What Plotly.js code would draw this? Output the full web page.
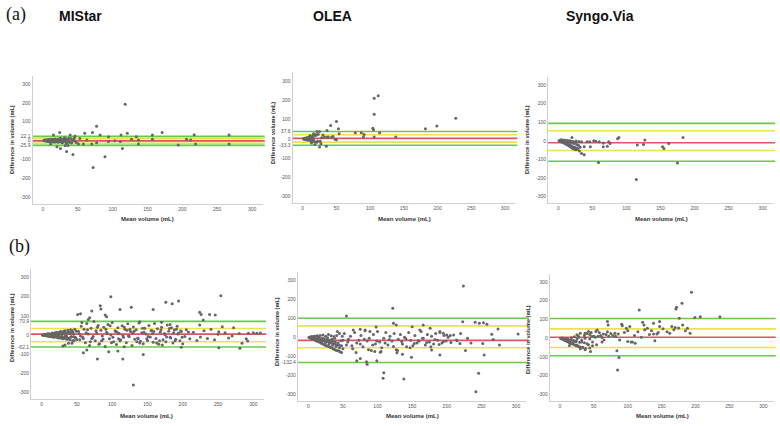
<!DOCTYPE html>
<html><head><meta charset="utf-8">
<script src="https://cdn.plot.ly/plotly-3.0.1.min.js"></script>
<style>html,body{margin:0;padding:0;background:#fff}#c{width:780px;height:426px}</style>
</head><body><div id="c"></div>
<script>
// ---------- DATA (mean volume, difference in volume) ----------
const panelTitles = ["MIStar", "OLEA", "Syngo.Via"];
const rowLabels = ["(a)", "(b)"];
const xTickVals = [0, 50, 100, 150, 200, 250, 300];

// limits: [upper LoA (green), upper (yellow), mean bias (red), lower (yellow), lower LoA (green)]
const mistarA_limits = [22.1, 11, -1.9, -15, -25.9];
const oleaA_limits   = [37.6, 21, 2.2, -17, -33.3];
const syngoA_limits  = [94, 54, -10, -52, -110];
const mistarB_limits = [70.9, 34, 4.4, -35, -62.1];
const oleaB_limits   = [100, 60, -16.2, -55, -132.4];
const syngoB_limits  = [105, 50, 5, -50, -94];

const mistarA_yticks = [-300, -200, -100, -25.9, 0, 22.1, 100, 200, 300];
const oleaA_yticks   = [-300, -200, -100, -33.3, 0, 37.6, 100, 200, 300];
const syngoA_yticks  = [-300, -200, -100, 0, 100, 200, 300];
const mistarB_yticks = [-300, -200, -100, -62.1, 0, 70.9, 100, 200, 300];
const oleaB_yticks   = [-300, -200, -132.4, -100, 0, 100, 200, 300];
const syngoB_yticks  = [-300, -200, -100, 0, 100, 200, 300];

const mistarA_pts = [[1,0],[2,1],[3,-1],[3,2],[4,-2],[5,3],[5,-3],[6,1],[7,4],[8,-4],[8,2],[9,-5],[10,5],[11,-3],[12,6],[12,-6],[13,2],[14,-7],[15,4],[16,-2],[17,8],[18,-8],[19,3],[20,-5],[21,7],[22,-9],[23,1],[24,10],[25,-4],[26,6],[27,-10],[28,3],[29,-6],[30,9],[31,-2],[32,5],[33,-11],[34,8],[35,-7],[36,4],[38,-9],[40,10],[42,-5],[44,7],[46,-3],
[2,-2],[4,3],[6,-4],[9,5],[11,-6],[14,7],[16,-8],[19,2],[22,-3],[25,12],[28,-12],[31,14],[34,-14],[37,11],[41,-13],[45,15],[48,-10],
[118,192],[77,75],[72,-144],[89,-86],[43,-75],[34,-59],[25,-42],[114,-42],[171,42],[121,38],[24,42],[71,42],[157,29],[157,6],[194,-24],[206,6],[212,3],[217,31],[219,-19],[267,29],[267,-19],[137,-19],[137,3],[127,6],[134,20],[111,-6],[112,29],[103,-1],[94,20],[94,-6],[82,29],[60,38],[63,3],[53,11],[51,-19],[77,-12],[58,-19],[70,-19],[11,-19],[15,29],[39,29],[46,24],[32,-26],[36,-26],[20,-33]];

const oleaA_pts = [[1,0],[2,1],[2,-2],[3,3],[4,-3],[4,2],[5,4],[6,-5],[6,5],[7,-6],[8,7],[8,-4],[9,8],[10,-8],[10,6],[11,9],[12,-10],[12,11],[13,-9],[14,12],[15,14],[16,-13],[17,16],[18,-15],[20,18],[22,-12],[3,-1],[5,-2],[7,1],[9,-3],[11,2],[13,4],[15,-5],[19,22],[21,-18],[23,24],
[112,224],[106,210],[106,128],[227,107],[199,66],[182,52],[41.5,69],[50,90],[104,55],[105,47],[53,52],[54,26],[36,43],[78,31],[87,31],[91,22],[90,9],[114,31],[106,9],[138,9],[21,38],[25,38],[16,26],[38,9],[43,9],[36,9],[50,-5],[28,5],[26,-12],[25,-43],[27,-26],[35,-38],[18,-29],[13,-22],[16,0],[11,17],[30,20],[32,10],[45,12],[48,-2]];

const syngoA_pts = [[1,0],[2,-2],[3,2],[4,-5],[5,3],[6,-8],[7,1],[8,-12],[9,4],[10,-15],[11,-3],[12,-20],[13,2],[14,-24],[15,-6],[16,-28],[17,0],[18,-33],[19,-10],[20,-38],[21,-4],[22,-42],[23,-15],[24,-45],[25,-8],[26,-48],[27,-20],[28,-40],[30,-25],[32,-35],[3,5],[5,6],[7,-3],[9,-8],[11,-10],[13,-14],[15,-18],[17,-22],[19,-26],[21,-30],[23,-34],[25,-36],[10,2],[14,1],[18,-2],[22,-5],
[114.5,-208],[59,-117],[175,-119],[183,18],[89,18],[87,11],[127,4],[116,-23],[125,-20],[153,-32],[155,-41],[162,-14],[38,-75],[34,-68],[31,-54],[28,-45],[38,-32],[47,-32],[66,-32],[72,-29],[74,-5],[76,-14],[60,-5],[52,0],[55,-2],[42,-5],[46,-5],[34,-5],[66,-11],[20,18],[30,-3],[26,-1]];

const mistarB_pts = [[1,0],[2,-1],[3,2],[4,-3],[5,3],[6,-4],[7,5],[8,-5],[9,6],[10,-7],[11,7],[12,-8],[13,4],[14,-9],[15,10],[16,-10],[17,8],[18,-12],[19,12],[20,-6],[21,14],[22,-13],[23,9],[24,-15],[25,16],[26,-11],[27,18],[28,-17],[29,5],[30,-19],[31,20],[32,-14],[33,22],[34,-20],[35,11],[36,-22],[37,25],[38,-18],[39,15],[40,-25],[41,28],[42,-8],[43,24],[44,-28],[45,6],[46,-30],[47,30],[48,-16],[49,19],[50,-24],
[3,1],[5,-2],[8,3],[11,-3],[14,2],[17,-4],[20,5],[23,-1],[26,7],[29,-8],[32,10],[35,-5],[38,13],[41,-12],[44,16],[47,-10],[6,4],[12,-5],[18,6],[24,-7],[30,9],[36,-11],[42,12],[48,-14],[9,-1],[15,2],[21,-3],[27,4],[33,-6],[39,8],[45,-9],
[52,20],[54,-25],[56,45],[58,-10],[60,30],[62,-40],[64,60],[66,5],[68,-55],[70,35],[72,-15],[74,70],[76,-30],[78,10],[80,50],[82,-45],[84,25],[86,-5],[88,40],[90,-60],[92,15],[94,55],[96,-20],[98,0],[100,65],[102,-35],[104,22],[106,-50],[108,38],[110,8],[112,-25],[114,48],[116,-12],[118,30],[120,-40],[122,58],[124,-8],[126,18],[128,-55],[130,42],[132,-22],[134,28],[136,-15],[138,62],[140,-32],[142,12],[144,-45],[146,35],[148,5],[150,-28],[152,50],[154,-10],[156,24],[158,-38],[160,60],[162,-18],[164,32],[166,-48],[168,14],[170,40],[172,-25],[174,8],[176,-35],[178,52],[180,20],[182,-12],[184,38],[186,-42],[188,26],[190,-22],[192,46],[194,10],[196,-30],[198,18],[200,-45],[205,28],[210,-20],[215,15],[220,-28],[230,22],[235,-18],[240,30],[245,-25],[260,12],[265,-15],[280,8],[290,-20],[300,12],
[55,-5],[63,12],[71,-18],[77,22],[85,-30],[93,8],[99,-40],[107,15],[115,-3],[121,25],[129,10],[137,-20],[143,35],[151,-8],[159,18],[167,-30],[175,2],[183,-15],[191,30],[199,-12],[57,65],[69,-35],[81,-48],[97,48],[109,-20],[125,30],[139,-42],[155,22],[171,-52],[187,12],
[53,8],[59,-18],[65,28],[73,-8],[79,40],[87,-22],[91,30],[101,-12],[105,18],[111,-30],[117,42],[123,-5],[131,20],[135,-35],[145,15],[149,-20],[157,6],[163,-42],[169,26],[177,-10],[181,34],[189,-30],[193,5],[197,22],[203,-8],[208,16],[225,-10],[250,4],[270,-5],[310,10],
[254,204],[98,199],[83,152],[84,135],[71,125],[176,170],[185,163],[194,177],[158,133],[127,144],[111,133],[51,107],[55,111],[90,104],[92,95],[224,118],[226,107],[238,107],[246,104],[229,78],[224,52],[68,90],[66,81],[139,69],[170,66],[182,55],[59,-92],[64,-78],[79,-125],[95,-87],[108,-83],[115,-125],[117,-61],[144,-101],[130,-260],[198,-64],[251,-66],[281,-69],[284,-43],[292,-31],[293,9],[305,9],[256,43],[272,38],[251,17],[30,-57],[33,-52],[38,-43],[43,-43]];

const oleaB_pts = [[1,0],[2,-3],[3,2],[4,-6],[5,4],[6,-9],[7,3],[8,-12],[9,6],[10,-16],[11,5],[12,-19],[13,8],[14,-22],[15,2],[16,-25],[17,10],[18,-30],[19,-5],[20,-33],[21,12],[22,-36],[23,-8],[24,-40],[25,6],[26,-44],[27,-12],[28,-46],[29,15],[30,-50],[31,-15],[32,-52],[33,8],[34,-56],[35,-20],[36,-60],[37,4],[38,-64],[39,-25],[40,-68],[41,10],[42,-70],[43,-30],[44,-72],[45,20],[46,-76],[47,-18],[48,-80],[49,5],[50,-60],
[3,-2],[6,-4],[9,-8],[12,-10],[15,-12],[18,-15],[21,-18],[24,-20],[27,-22],[30,-25],[33,-28],[36,-32],[39,-35],[42,-40],[45,-42],[48,-45],[5,1],[10,-6],[15,-14],[20,-20],[25,-28],[30,-35],[35,-42],[40,-48],[45,-55],[50,-15],[8,2],[14,-3],[22,-8],[28,-2],[34,-10],[38,-5],
[52,20],[55,-40],[58,-10],[61,5],[64,-60],[67,25],[70,-30],[73,-15],[76,10],[79,-50],[82,35],[85,-20],[88,-5],[91,-70],[94,15],[97,-35],[100,30],[103,-25],[106,-55],[109,-5],[112,25],[115,-40],[118,5],[121,-20],[124,20],[127,-65],[130,-10],[133,15],[136,-35],[139,0],[142,-50],[145,25],[148,-15],[151,-45],[154,10],[157,-30],[160,-20],[163,30],[166,-5],[169,-40],[172,15],[175,-25],[178,5],[181,-35],[184,20],[187,-15],[190,25],[193,-30],[196,10],[199,-20],[202,0],[206,-28],[210,12],[215,-18],[220,20],[230,-5],[235,-30],
[57,-25],[63,-45],[69,-80],[75,-35],[81,-10],[87,-65],[93,-40],[99,-20],[105,-75],[111,-30],[117,-12],[123,-48],[129,-70],[135,-22],[141,-8],[147,-55],[153,-32],[159,-18],[165,-5],[171,-28],[177,-50],[183,-12],[189,-38],[195,-24],
[224,270],[122,153],[55,112],[109,-186],[108,-216],[138,-219],[246,-189],[242,-286],[223,82],[241,79],[247,74],[253,77],[258,68],[274,44],[276,-40],[254,-93],[252,-32],[265,16],[267,-11],[303,18],[227,-70],[219,-32],[214,-14],[99,-123],[70,-123],[84,-128],[85,-142],[75,-111],[149,-105],[128,-81],[136,-89],[190,-93],[178,-67],[123,74],[127,65],[166,65],[150,56],[98,54],[161,39],[176,47],[190,30],[195,21],[200,12],[205,9],[96,-75],[104,-79],[65,39],[75,42],[82,39],[89,30],[42,30]];

const syngoB_pts = [[1,0],[2,-3],[3,1],[4,-6],[5,-2],[6,-10],[7,-4],[8,-14],[9,-6],[10,-17],[11,-3],[12,-20],[13,-9],[14,-24],[15,-12],[16,-27],[17,2],[18,-30],[19,-15],[20,-33],[21,8],[22,-36],[23,-18],[24,-40],[25,-5],[26,-42],[27,12],[28,-45],[29,-22],[30,-48],[32,-10],[34,-50],[36,15],[38,-55],[40,25],[42,-35],[44,-5],[46,30],[48,-20],[50,10],
[4,-1],[8,-4],[12,-8],[16,-10],[20,-13],[24,-16],[28,5],[32,-20],[36,-25],[40,-30],[44,20],[48,-40],[52,5],[56,10],[58,30],[60,15],[65,-10],[68,20],[72,10],[75,25],[78,15],
[82,10],[95,30],[105,-20],[110,15],[115,35],[120,5],[125,45],[132,20],[135,40],[145,30],[152,50],[158,35],[168,45],[175,55],[185,40],[62,-20],[54,-35],[70,35],[88,-10],[100,40],
[194,245],[172,165],[171,156],[180,186],[117,151],[236,115],[207,115],[199,110],[176,107],[70,89],[71,71],[91,75],[92,66],[98,53],[103,62],[122,85],[124,71],[129,53],[138,80],[147,89],[147,62],[165,62],[170,57],[181,71],[188,53],[192,27],[162,27],[143,23],[138,23],[140,-14],[100,-18],[107,-21],[111,-27],[84,-67],[87,-103],[85,-170],[81,27],[86,23],[64,23],[55,44],[53,36],[47,9],[62,4],[42,36],[37,27],[44,-53],[45,-71],[37,-62],[30,-57],[33,-48],[25,-36],[14,-39],[25,18],[30,27],[37,0],[20,-18]];

// ---------- LAYOUT / STYLE ----------
const W = 780, H = 426;
const XR = [-15, 315], YR = [-335, 345];
// pixel boxes [left, right, top, bottom]
const boxes = [
  [32.5, 262.5, 75.5, 203.6],
  [292.6, 515.1, 72.3, 203.4],
  [548.1, 772.9, 76.6, 203.2],
  [31.1, 263.9, 268.7, 399.4],
  [297.9, 526.4, 271.7, 401.0],
  [549.8, 773.5, 273.6, 400.9]
];
const panels = [
  {pts: mistarA_pts, lim: mistarA_limits, yt: mistarA_yticks, ytitle: "Difference in volume (mL)", yt_px: [12, 140], xt_px: [147, 219], fill: true},
  {pts: oleaA_pts, lim: oleaA_limits, yt: oleaA_yticks, ytitle: "Difference volume (mL)", yt_px: [273, 133], xt_px: [404, 219], fill: false},
  {pts: syngoA_pts, lim: syngoA_limits, yt: syngoA_yticks, ytitle: "Difference in volume (mL)", yt_px: [527, 140], xt_px: [661, 219], fill: false},
  {pts: mistarB_pts, lim: mistarB_limits, yt: mistarB_yticks, ytitle: "Difference in volume (mL)", yt_px: [12, 328], xt_px: [146, 416], fill: false},
  {pts: oleaB_pts, lim: oleaB_limits, yt: oleaB_yticks, ytitle: "Difference in volume (mL)", yt_px: [277, 332], xt_px: [412, 416], fill: false},
  {pts: syngoB_pts, lim: syngoB_limits, yt: syngoB_yticks, ytitle: "Difference in volume (mL)", yt_px: [528, 340], xt_px: [662, 416], fill: false}
];
const GREEN = "#6cc84a", YELLOW = "#ece24a", RED = "#e2506a";
const lineColors = [GREEN, YELLOW, RED, YELLOW, GREEN];

const traces = [];
const shapes = [];
const annotations = [];
const layout = {
  width: W, height: H, margin: {l: 0, r: 0, t: 0, b: 0},
  paper_bgcolor: "#fff", plot_bgcolor: "#fff", showlegend: false,
  font: {family: "Liberation Sans, Arial, sans-serif", color: "#444"}
};

panels.forEach((p, i) => {
  const n = i + 1;
  const xa = n === 1 ? "x" : "x" + n, ya = n === 1 ? "y" : "y" + n;
  const b = boxes[i];
  layout[n === 1 ? "xaxis" : "xaxis" + n] = {
    domain: [b[0] / W, b[1] / W], range: XR, anchor: ya,
    tickvals: xTickVals, ticktext: xTickVals.map(String),
    showline: true, linecolor: "#cfcfcf", linewidth: 1, showgrid: false, zeroline: false,
    ticks: "", tickfont: {size: 5, color: "#555"}
  };
  layout[n === 1 ? "yaxis" : "yaxis" + n] = {
    domain: [1 - b[3] / H, 1 - b[2] / H], range: YR, anchor: xa,
    tickvals: p.yt, ticktext: p.yt.map(String),
    showline: true, linecolor: "#cfcfcf", linewidth: 1, showgrid: false, zeroline: false,
    ticks: "", tickfont: {size: 5, color: "#555"}
  };
  if (p.fill) {
    shapes.push({type: "rect", xref: xa + " domain", yref: ya, x0: 0, x1: 1,
      y0: p.lim[4], y1: p.lim[0], fillcolor: "rgba(215,238,160,0.55)", line: {width: 0}, layer: "below"});
  }
  p.lim.forEach((v, k) => {
    shapes.push({type: "line", xref: xa + " domain", yref: ya, x0: 0, x1: 1.01, y0: v, y1: v,
      line: {color: lineColors[k], width: 1.6}, layer: "below"});
  });
  traces.push({
    type: "scatter", mode: "markers", xaxis: xa, yaxis: ya,
    x: p.pts.map(d => d[0]), y: p.pts.map(d => d[1]),
    marker: {size: 3, color: "#666666"}, hoverinfo: "skip"
  });
  annotations.push({xref: "paper", yref: "paper", x: p.yt_px[0] / W, y: 1 - p.yt_px[1] / H,
    text: "<b>" + p.ytitle + "</b>", textangle: -90, showarrow: false,
    font: {size: 5.6, color: "#333"}, xanchor: "center", yanchor: "middle"});
  annotations.push({xref: "paper", yref: "paper", x: p.xt_px[0] / W, y: 1 - p.xt_px[1] / H,
    text: "<b>Mean volume (mL)</b>", showarrow: false,
    font: {size: 6, color: "#333"}, xanchor: "center", yanchor: "middle"});
});

const titlePx = [[80, 16], [332, 16], [600, 16]];
panelTitles.forEach((t, k) => {
  annotations.push({xref: "paper", yref: "paper", x: titlePx[k][0] / W, y: 1 - titlePx[k][1] / H,
    text: "<b>" + t + "</b>", showarrow: false, xanchor: "center", yanchor: "middle",
    font: {size: 14, color: "#111", family: "Liberation Sans, Arial, sans-serif"}});
});
const rowPx = [[16, 15], [19, 246]];
rowLabels.forEach((t, k) => {
  annotations.push({xref: "paper", yref: "paper", x: rowPx[k][0] / W, y: 1 - rowPx[k][1] / H,
    text: t, showarrow: false, xanchor: "center", yanchor: "middle",
    font: {size: 18, color: "#111", family: "Liberation Serif, Times New Roman, serif"}});
});

layout.shapes = shapes;
layout.annotations = annotations;
Plotly.newPlot("c", traces, layout, {staticPlot: true, displayModeBar: false});
</script></body></html>
